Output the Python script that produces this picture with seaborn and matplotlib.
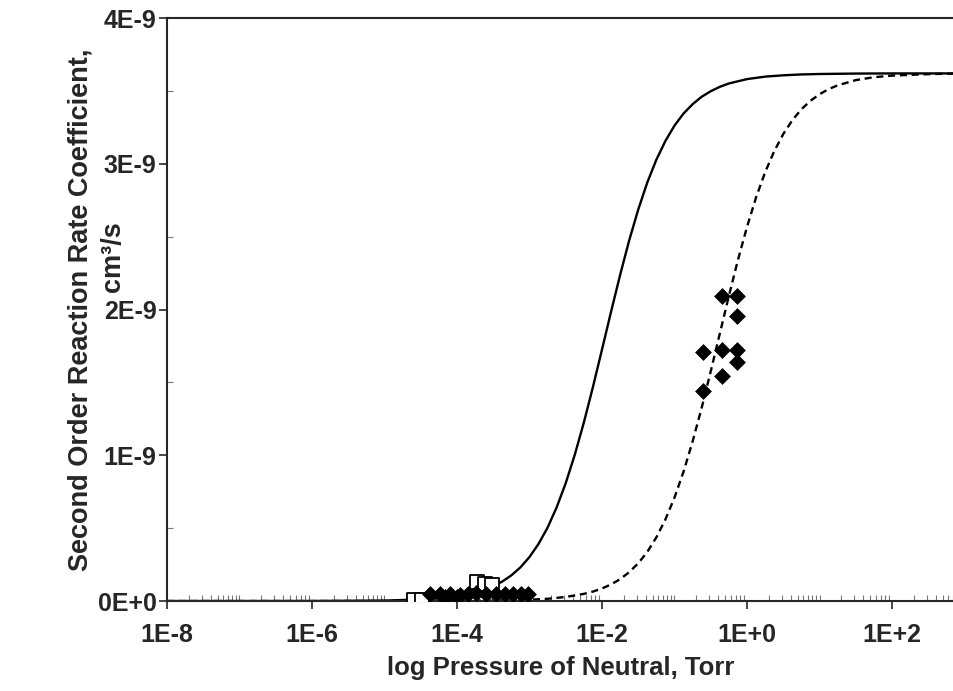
import matplotlib
matplotlib.use("Agg")
import matplotlib.pyplot as plt
import matplotlib.ticker as mticker
import seaborn as sns
import pandas as pd
import numpy as np

sns.set_style("ticks")
plt.rcParams['font.family'] = ['Liberation Sans', 'DejaVu Sans']
plt.rcParams['font.weight'] = 'bold'

# model curves (log10 P in Torr, k in 1E-9 cm3/s)
solid_logp = [-8, -7, -6, -5, -4.5, -4.25, -4, -3.75, -3.5, -3.375, -3.25, -3.125,
              -3, -2.875, -2.75, -2.625, -2.5, -2.375, -2.25, -2.125, -2, -1.875,
              -1.75, -1.625, -1.5, -1.375, -1.25, -1.125, -1, -0.875, -0.75, -0.625,
              -0.5, -0.375, -0.25, 0, 0.25, 0.5, 0.75, 1, 1.5, 2, 2.86]
solid_k = [0.0, 0.0, 0.0003, 0.0033, 0.0104, 0.0184, 0.033, 0.0576, 0.101, 0.134,
           0.176, 0.231, 0.302, 0.392, 0.504, 0.643, 0.809, 1.004, 1.225, 1.468,
           1.725, 1.985, 2.237, 2.474, 2.686, 2.872, 3.028, 3.157, 3.262, 3.345,
           3.409, 3.460, 3.498, 3.528, 3.551, 3.581, 3.598, 3.607, 3.613, 3.616,
           3.619, 3.62, 3.62]

dash_logp = [-8, -6, -5, -4, -3.5, -3, -2.75, -2.5, -2.25, -2.125, -2, -1.875,
             -1.75, -1.625, -1.5, -1.375, -1.25, -1.125, -1, -0.875, -0.75, -0.625,
             -0.5, -0.375, -0.25, -0.125, 0, 0.125, 0.25, 0.375, 0.5, 0.625, 0.75,
             0.875, 1, 1.125, 1.25, 1.5, 1.75, 2, 2.5, 2.86]
dash_k = [0.0, 0.0, 0.0001, 0.0009, 0.0028, 0.0088, 0.0156, 0.028, 0.049, 0.065,
          0.086, 0.114, 0.150, 0.198, 0.259, 0.337, 0.437, 0.560, 0.710, 0.888,
          1.095, 1.326, 1.576, 1.835, 2.093, 2.340, 2.567, 2.769, 2.942, 3.086,
          3.204, 3.299, 3.374, 3.432, 3.477, 3.512, 3.538, 3.574, 3.594, 3.605,
          3.615, 3.619]

# measured points
diam_p = [4.25e-5, 5.83e-5, 8.0e-5, 1.1e-4, 1.42e-4, 1.83e-4, 2.51e-4, 3.45e-4,
          4.59e-4, 5.92e-4, 7.64e-4, 9.53e-4, 6.8e-5, 1.0e-4,
          0.452, 0.728, 0.728, 0.247, 0.452, 0.728, 0.728, 0.452, 0.247]
diam_k = [0.05, 0.05, 0.045, 0.04, 0.05, 0.055, 0.05, 0.045, 0.05, 0.05, 0.045,
          0.05, 0.025, 0.03,
          2.093, 2.093, 1.955, 1.708, 1.722, 1.722, 1.640, 1.544, 1.441]

sq_p = [2.55e-5, 3.29e-5, 1.89e-4, 2.43e-4, 3.04e-4]
sq_k = [0.008, 0.008, 0.13, 0.12, 0.11]

xtick_vals = [1e-8, 1e-6, 1e-4, 1e-2, 1e0, 1e2]
xtick_labels = ["1E-8", "1E-6", "1E-4", "1E-2", "1E+0", "1E+2"]
ytick_vals = [0, 1e-9, 2e-9, 3e-9, 4e-9]
ytick_labels = ["0E+0", "1E-9", "2E-9", "3E-9", "4E-9"]

solid_df = pd.DataFrame({"P": np.power(10.0, solid_logp), "k": np.array(solid_k) * 1e-9})
dash_df = pd.DataFrame({"P": np.power(10.0, dash_logp), "k": np.array(dash_k) * 1e-9})
diam_df = pd.DataFrame({"P": diam_p, "k": np.array(diam_k) * 1e-9})
sq_df = pd.DataFrame({"P": sq_p, "k": np.array(sq_k) * 1e-9})

fig = plt.figure(figsize=(9.54, 6.91), dpi=100)
ax = fig.add_axes([0.175, 0.1302, 0.825, 0.8437])

sns.lineplot(ax=ax, data=solid_df, x="P", y="k", color="black", lw=1.7)
sns.lineplot(ax=ax, data=dash_df, x="P", y="k", color="black", lw=1.7,
             linestyle=(0, (3, 2)))
sns.scatterplot(ax=ax, data=sq_df, x="P", y="k", marker="s", s=90,
                facecolor="white", edgecolor="black", linewidth=1.3, zorder=3)
sns.scatterplot(ax=ax, data=diam_df, x="P", y="k", marker="D", s=65,
                color="black", edgecolor="black", linewidth=0.5, zorder=4)

ax.set_xscale("log")
ax.set_xlim(1e-8, 10 ** 2.855)
ax.set_ylim(0, 4e-9)

ax.set_xticks(xtick_vals)
ax.set_xticklabels(xtick_labels)
ax.xaxis.set_minor_locator(mticker.LogLocator(base=10, subs=np.arange(1, 10), numticks=100))
ax.xaxis.set_minor_formatter(mticker.NullFormatter())
ax.set_yticks(ytick_vals)
ax.set_yticklabels(ytick_labels)
ax.yaxis.set_minor_locator(mticker.MultipleLocator(0.5e-9))

ax.tick_params(axis="both", which="major", direction="out", length=6, width=1.2,
               labelsize=18)
ax.tick_params(axis="x", which="major", pad=10)
ax.tick_params(axis="y", which="major", pad=1.5)
ax.tick_params(axis="both", which="minor", direction="in", length=4, width=0.8,
               color="#777777")

for side in ["left", "top", "bottom"]:
    ax.spines[side].set_linewidth(1.5)
ax.spines["right"].set_visible(False)

ax.set_xlabel("log Pressure of Neutral, Torr", fontsize=18.5, fontweight="bold", labelpad=6)
ax.set_ylabel("")
fig.text(0.084, 0.552, "Second Order Reaction Rate Coefficient,", rotation=90,
         ha="center", va="center", fontsize=19.5, fontweight="bold")
fig.text(0.118, 0.628, "cm³/s", rotation=90, ha="center", va="center",
         fontsize=19.5, fontweight="bold")

fig.savefig("out.png", dpi=100)
